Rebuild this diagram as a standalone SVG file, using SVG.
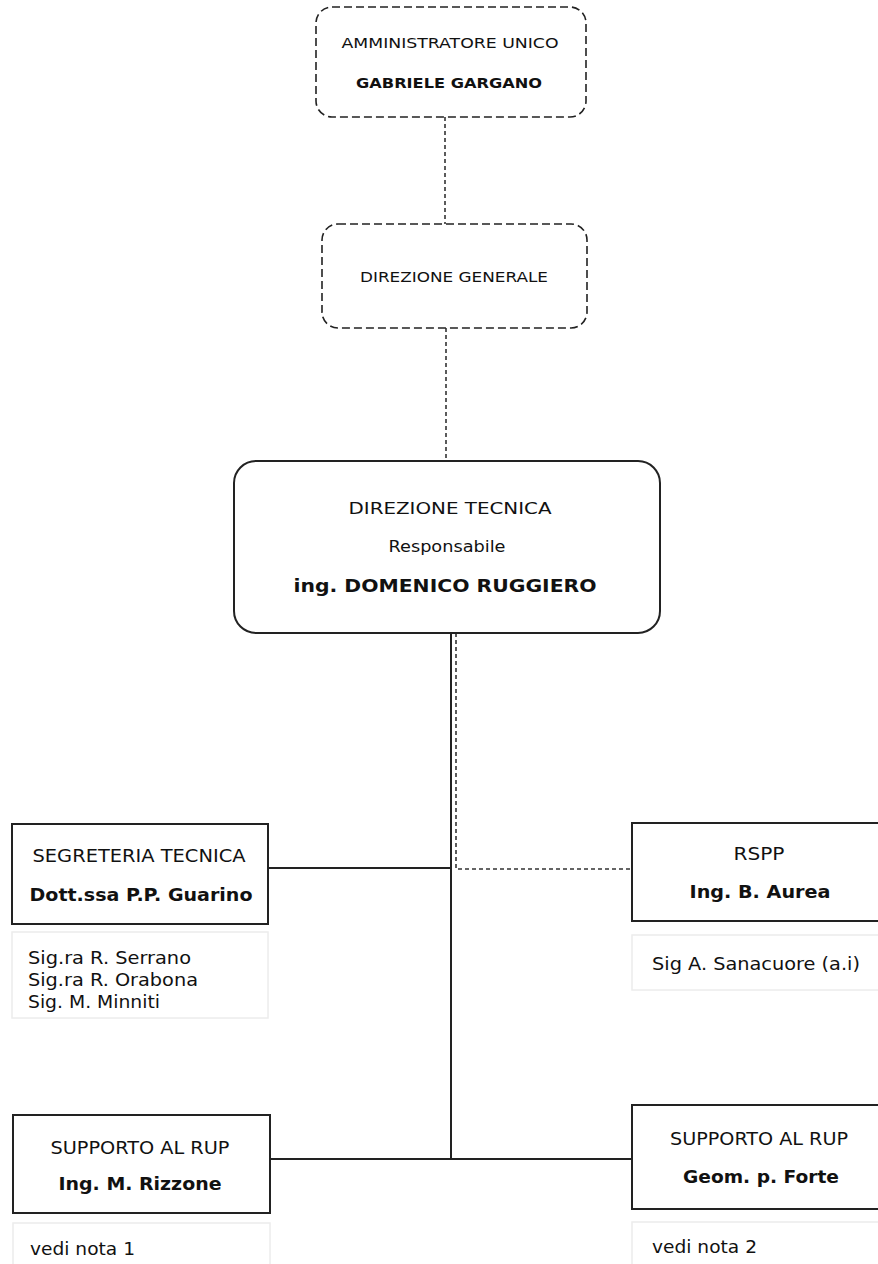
<svg xmlns="http://www.w3.org/2000/svg" width="878" height="1264" viewBox="0 0 878 1264">
<style>
text{font-family:"DejaVu Sans","Liberation Sans",sans-serif;fill:#111}
.c{text-anchor:middle}
.b{font-weight:bold}
.dash{fill:#fff;stroke:#222;stroke-width:1.6;stroke-dasharray:8 4}
.box{fill:#fff;stroke:#222;stroke-width:2}
.light{fill:#fff;stroke:#ececec;stroke-width:1.5}
.ln{stroke:#222;stroke-width:2;fill:none}
.dot{stroke:#333;stroke-width:1.6;fill:none;stroke-dasharray:4 3}
</style>
<rect width="878" height="1264" fill="#fff"/>
<g id="connectors">
<line class="dot" x1="445" y1="117" x2="445" y2="224"/>
<line class="dot" x1="446" y1="328" x2="446" y2="461"/>
<line class="ln" x1="451" y1="633" x2="451" y2="1159"/>
<line class="ln" x1="268" y1="868" x2="451" y2="868"/>
<line class="ln" x1="270" y1="1159" x2="632" y2="1159"/>
<polyline class="dot" points="456,633 456,869 632,869"/>
</g>
<g id="amministratore">
<rect class="dash" x="316" y="7" width="270" height="110" rx="16"/>
<text class="c" x="450" y="48" font-size="13.5" textLength="217" lengthAdjust="spacingAndGlyphs">AMMINISTRATORE UNICO</text>
<text class="c b" x="449" y="88" font-size="13.5" textLength="186" lengthAdjust="spacingAndGlyphs">GABRIELE GARGANO</text>
</g>
<g id="direzione-generale">
<rect class="dash" x="322" y="224" width="265" height="104" rx="16"/>
<text class="c" x="454" y="282" font-size="14" textLength="188" lengthAdjust="spacingAndGlyphs">DIREZIONE GENERALE</text>
</g>
<g id="direzione-tecnica">
<rect class="box" x="234" y="461" width="426" height="172" rx="22"/>
<text class="c" x="450" y="514" font-size="15.5" textLength="203" lengthAdjust="spacingAndGlyphs">DIREZIONE TECNICA</text>
<text class="c" x="447" y="552" font-size="16" textLength="117" lengthAdjust="spacingAndGlyphs">Responsabile</text>
<text class="c b" x="445" y="592" font-size="18.5" textLength="303" lengthAdjust="spacingAndGlyphs">ing. DOMENICO RUGGIERO</text>
</g>
<g id="segreteria">
<rect class="box" x="12" y="824" width="256" height="100"/>
<text class="c" x="139" y="862" font-size="17" textLength="213" lengthAdjust="spacingAndGlyphs">SEGRETERIA TECNICA</text>
<text class="c b" x="141" y="901" font-size="17.5" textLength="223" lengthAdjust="spacingAndGlyphs">Dott.ssa P.P. Guarino</text>
</g>
<g id="segreteria-staff">
<rect class="light" x="12" y="932" width="256" height="86"/>
<text x="28" y="964" font-size="17" textLength="163" lengthAdjust="spacingAndGlyphs">Sig.ra R. Serrano</text>
<text x="28" y="986" font-size="17" textLength="170" lengthAdjust="spacingAndGlyphs">Sig.ra R. Orabona</text>
<text x="28" y="1008" font-size="17" textLength="132" lengthAdjust="spacingAndGlyphs">Sig. M. Minniti</text>
</g>
<g id="rspp">
<rect class="box" x="632" y="823" width="258" height="98"/>
<text class="c" x="759" y="860" font-size="17" textLength="51" lengthAdjust="spacingAndGlyphs">RSPP</text>
<text class="c b" x="760" y="898" font-size="17.5" textLength="141" lengthAdjust="spacingAndGlyphs">Ing. B. Aurea</text>
</g>
<g id="rspp-staff">
<rect class="light" x="632" y="935" width="258" height="55"/>
<text x="652" y="970" font-size="17" textLength="208" lengthAdjust="spacingAndGlyphs">Sig A. Sanacuore (a.i)</text>
</g>
<g id="supporto-1">
<rect class="box" x="13" y="1115" width="257" height="98"/>
<text class="c" x="140" y="1154" font-size="17" textLength="179" lengthAdjust="spacingAndGlyphs">SUPPORTO AL RUP</text>
<text class="c b" x="140" y="1190" font-size="17.5" textLength="163" lengthAdjust="spacingAndGlyphs">Ing. M. Rizzone</text>
</g>
<g id="supporto-1-note">
<rect class="light" x="13" y="1223" width="257" height="50"/>
<text x="30" y="1255" font-size="17" textLength="105" lengthAdjust="spacingAndGlyphs">vedi nota 1</text>
</g>
<g id="supporto-2">
<rect class="box" x="632" y="1105" width="258" height="104"/>
<text class="c" x="759" y="1145" font-size="17" textLength="178" lengthAdjust="spacingAndGlyphs">SUPPORTO AL RUP</text>
<text class="c b" x="761" y="1183" font-size="17.5" textLength="156" lengthAdjust="spacingAndGlyphs">Geom. p. Forte</text>
</g>
<g id="supporto-2-note">
<rect class="light" x="632" y="1222" width="258" height="50"/>
<text x="652" y="1253" font-size="17" textLength="105" lengthAdjust="spacingAndGlyphs">vedi nota 2</text>
</g>
</svg>
